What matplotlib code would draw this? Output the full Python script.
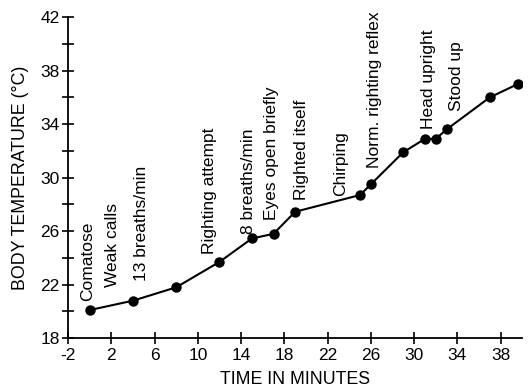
import matplotlib
matplotlib.use("Agg")
import matplotlib.pyplot as plt

plt.rcParams["font.family"] = ["Liberation Sans", "DejaVu Sans"]
plt.rcParams["axes.unicode_minus"] = False

# time (min) and body temperature (°C)
minutes = [0, 4, 8, 12, 15, 17, 19, 25, 26, 29, 31, 32, 33, 37, 39.6]
temps = [20.1, 20.8, 21.8, 23.7, 25.45, 25.8, 27.45, 28.7, 29.5, 31.9, 32.9, 32.9, 33.6, 36.0, 37.0]

# behavioural events: label, x of text centre, y of text bottom
events = ["Comatose", "Weak calls", "13 breaths/min", "Righting attempt",
          "8 breaths/min", "Eyes open briefly", "Righted itself", "Chirping",
          "Norm. righting reflex", "Head upright", "Stood up"]
event_x = [-0.15, 2.15, 4.8, 11.05, 14.7, 16.85, 19.6, 23.2, 26.3, 31.3, 33.9]
event_y = [20.8, 21.8, 22.3, 24.3, 25.8, 26.8, 28.3, 28.6, 30.7, 33.65, 35.0]

xticks = list(range(-2, 39, 4))
yticks = list(range(18, 43, 4))
yminor = list(range(20, 41, 4))

fig = plt.figure(figsize=(5.28, 3.9), dpi=100)
ax = fig.add_axes([0.129, 0.133, 0.86, 0.823])

ax.plot(minutes, temps, color="black", lw=1.5, marker="o", ms=6.5,
        markerfacecolor="black", markeredgecolor="black", zorder=3)

for label, x, y in zip(events, event_x, event_y):
    ax.text(x, y, label, rotation=90, ha="center", va="bottom", fontsize=12.5)

ax.set_xlim(-2, 40)
ax.set_ylim(18, 42)
ax.set_xticks(xticks)
ax.set_yticks(yticks)
ax.set_yticks(yminor, minor=True)

for side in ("top", "right"):
    ax.spines[side].set_visible(False)
for side in ("left", "bottom"):
    ax.spines[side].set_linewidth(1.3)

ax.tick_params(which="both", direction="inout", length=8, width=1.2,
               labelsize=12.5, pad=2)
ax.tick_params(axis="x", pad=3)

ax.set_xlabel("TIME IN MINUTES", fontsize=12.8, labelpad=6)
ax.set_ylabel("BODY TEMPERATURE (°C)", fontsize=12.8, labelpad=8)

fig.savefig("out.png", dpi=100)
